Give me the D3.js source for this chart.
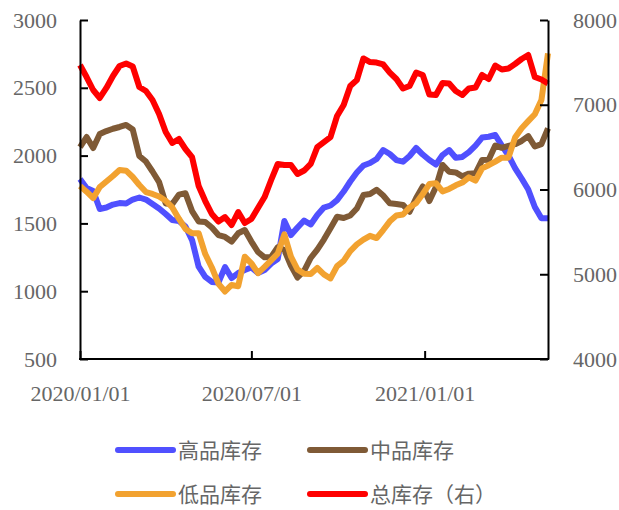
<!DOCTYPE html>
<html><head><meta charset="utf-8">
<script src="https://cdn.jsdelivr.net/npm/d3@7/dist/d3.min.js"></script>
<style>body{margin:0;background:#fff}svg{display:block}</style>
</head><body><svg id="c" width="619" height="510"></svg>
<script>
const startDate = "2020-01-01";
const weeks = 72;
const high = [1827,1761,1739,1606,1617,1639,1650,1647,1676,1691,1676,1643,1610,1569,1525,1518,1477,1377,1181,1105,1068,1064,1178,1097,1134,1156,1175,1134,1156,1204,1237,1518,1414,1470,1521,1492,1562,1617,1632,1672,1735,1809,1875,1927,1945,1975,2041,2012,1967,1955,1997,2056,2008,1967,1934,2004,2041,1984,1990,2026,2074,2133,2139,2152,2074,2001,1908,1831,1750,1621,1538,1538];
const mid = [2063,2137,2056,2159,2181,2198,2211,2226,2192,1997,1956,1883,1805,1647,1643,1712,1722,1591,1514,1510,1470,1414,1400,1366,1427,1451,1366,1289,1250,1252,1324,1304,1189,1101,1150,1245,1307,1381,1464,1549,1540,1558,1610,1709,1717,1748,1706,1648,1643,1636,1586,1687,1772,1665,1768,1931,1881,1876,1847,1867,1869,1967,1969,2074,2057,2071,2084,2108,2144,2067,2085,2201];
const low = [1776,1734,1686,1768,1809,1850,1894,1889,1842,1783,1731,1717,1698,1667,1618,1535,1459,1427,1428,1274,1175,1055,998,1046,1037,1254,1206,1133,1179,1228,1277,1419,1256,1160,1128,1127,1171,1124,1094,1185,1224,1296,1345,1380,1408,1392,1451,1515,1558,1566,1617,1650,1717,1790,1796,1736,1754,1781,1801,1840,1815,1906,1929,1956,1985,1985,2133,2202,2254,2305,2410,2754];
const total = [7469,7327,7174,7080,7198,7339,7457,7487,7451,7209,7162,7056,6891,6678,6549,6596,6478,6383,6041,5864,5711,5622,5675,5581,5734,5605,5652,5782,5911,6112,6301,6289,6289,6183,6224,6301,6501,6560,6619,6867,6997,7221,7292,7546,7504,7498,7475,7380,7304,7192,7221,7380,7351,7121,7115,7257,7251,7162,7115,7192,7203,7351,7304,7463,7416,7428,7481,7540,7587,7327,7298,7251];
const leftTicks = [500,1000,1500,2000,2500,3000];
const rightTicks = [4000,5000,6000,7000,8000];
const xTickLabels = ["2020/01/01","2020/07/01","2021/01/01"];
const seriesNames = ["高品库存","中品库存","低品库存","总库存（右）"];
const colors = ["#5050FF","#7F5A36","#F2A230","#FF0000"];

const parse = d3.timeParse("%Y-%m-%d");
const parseTick = d3.timeParse("%Y/%m/%d");
const t0 = parse(startDate);
const dates = d3.range(weeks).map(i => d3.timeDay.offset(t0, i*7));

const svg = d3.select("#c");
const L = 80, R = 548, T = 20, B = 359;
const x = d3.scaleTime().domain([dates[0], dates[dates.length-1]]).range([L, R]);
const yL = d3.scaleLinear().domain([500,3000]).range([B, T]);
const yR = d3.scaleLinear().domain([4000,8000]).range([B, T]);

const numFont = "'Liberation Serif','DejaVu Serif',serif";
const cjkFont = "'Noto Sans CJK SC','Noto Sans',sans-serif";
const grey = "#666";

const data = [high, mid, low];
data.forEach((arr, k) => {
  const line = d3.line().x((d,i)=>x(dates[i])).y(d=>yL(d));
  svg.append("path").datum(arr).attr("d", line).attr("fill","none")
    .attr("stroke", colors[k]).attr("stroke-width", 6).attr("stroke-linejoin","round");
});
const lineR = d3.line().x((d,i)=>x(dates[i])).y(d=>yR(d));
svg.append("path").datum(total).attr("d", lineR).attr("fill","none")
  .attr("stroke", colors[3]).attr("stroke-width", 6).attr("stroke-linejoin","round");

const fmt = d3.format("d");
const axL = d3.axisLeft(yL).tickValues(leftTicks).tickFormat(fmt).tickSize(-8).tickPadding(23).tickSizeOuter(0);
const gL = svg.append("g").attr("transform",`translate(${L},0)`).call(axL);
const axR = d3.axisRight(yR).tickValues(rightTicks).tickFormat(fmt).tickSize(-8).tickPadding(25).tickSizeOuter(0);
const gR = svg.append("g").attr("transform",`translate(${R},0)`).call(axR);
const xTicks = xTickLabels.map(s => parseTick(s));
const axB = d3.axisBottom(x).tickValues(xTicks).tickFormat(d3.timeFormat("%Y/%m/%d")).tickSize(-8).tickPadding(26).tickSizeOuter(0);
const gB = svg.append("g").attr("transform",`translate(0,${B})`).call(axB);
[gL,gR,gB].forEach(g=>{
  g.select(".domain").attr("stroke","#000").attr("stroke-width",2);
  g.selectAll(".tick line").attr("stroke","#000").attr("stroke-width",2);
  g.selectAll(".tick text").attr("fill",grey).style("font-family",numFont).style("font-size","22px");
});
gB.select(".domain").attr("d", `M${L-1},0H${R+1}`);

const leg = [[118,450],[310,450],[118,494],[310,494]];
seriesNames.forEach((n,k)=>{
  const [lx,ly] = leg[k];
  svg.append("line").attr("x1",lx).attr("x2",lx+55).attr("y1",ly).attr("y2",ly)
    .attr("stroke",colors[k]).attr("stroke-width",6).attr("stroke-linecap","round");
  svg.append("text").attr("x",lx+60).attr("y",ly).attr("dy","0.36em").text(n)
    .attr("fill",grey).style("font-family",cjkFont).style("font-size","21px");
});
</script></body></html>
